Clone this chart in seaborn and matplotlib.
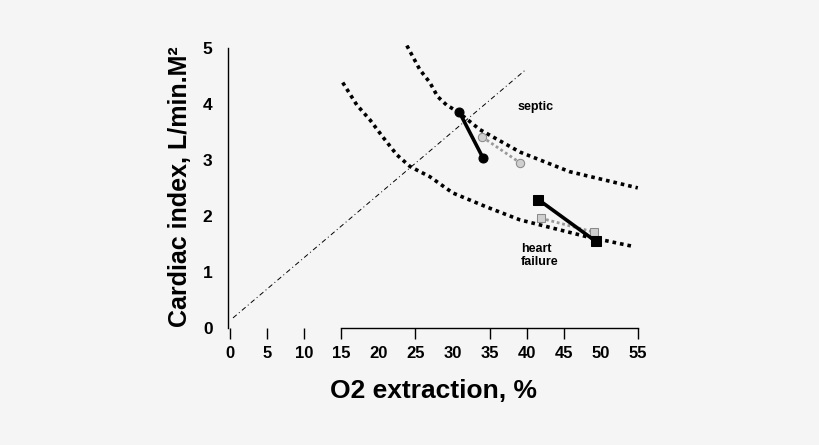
import numpy as np
import pandas as pd
import seaborn as sns
import matplotlib.pyplot as plt

# iso-VO2 curves
septic_x = [23.85, 25.6, 26.95, 28.0, 29.2, 30.7, 33.7, 39.1, 45.8, 55.0]
septic_y = [5.04, 4.61, 4.38, 4.13, 3.98, 3.86, 3.54, 3.14, 2.79, 2.50]
hf_x = [15.2, 17.1, 18.9, 20.6, 22.5, 24.3, 26.95, 30.05, 34.6, 39.1, 48.1, 54.6]
hf_y = [4.38, 3.98, 3.71, 3.41, 3.09, 2.88, 2.70, 2.41, 2.16, 1.93, 1.63, 1.45]

# identity-like reference line
diag_x = [0.4, 39.8]
diag_y = [0.18, 4.60]

# patient trajectories (before -> after)
septic_a_x = [30.9, 34.1]
septic_a_y = [3.86, 3.04]
septic_b_x = [34.0, 39.1]
septic_b_y = [3.41, 2.95]
hf_a_x = [41.6, 49.3]
hf_a_y = [2.29, 1.55]
hf_b_x = [41.9, 49.1]
hf_b_y = [1.96, 1.71]

xtick_labels = [str(v) for v in range(0, 60, 5)]
tick_marks = [0, 5, 10, 15, 25, 35, 40, 45, 55]
ytick_labels = ['0', '1', '2', '3', '4', '5']

sns.set_style('white')
plt.rcParams['font.family'] = ['Liberation Sans', 'DejaVu Sans']
plt.rcParams['text.color'] = 'black'
plt.rcParams['axes.labelcolor'] = 'black'
plt.rcParams['xtick.color'] = 'black'
plt.rcParams['ytick.color'] = 'black'
bg = '#f5f5f5'

fig = plt.figure(figsize=(8.2, 4.45), dpi=100, facecolor=bg)
ax = fig.add_axes([0.2778, 0.2629, 0.5027, 0.636], facecolor=bg)

dots = (0, (1, 1.1))
sns.lineplot(x=septic_x, y=septic_y, sort=False, ax=ax, color='black',
             lw=2.6, linestyle=dots)
sns.lineplot(x=hf_x, y=hf_y, sort=False, ax=ax, color='black',
             lw=2.6, linestyle=dots)
sns.lineplot(x=diag_x, y=diag_y, sort=False, ax=ax, color='black',
             lw=0.7, linestyle=(0, (5, 3, 1, 3)))

# gray (second measurement) trajectories
sns.lineplot(x=septic_b_x, y=septic_b_y, sort=False, ax=ax, color='#999999',
             lw=2.0, linestyle=(0, (1, 1)), marker='o', markersize=6,
             markerfacecolor='#cfcfcf', markeredgecolor='#8a8a8a')
sns.lineplot(x=hf_b_x, y=hf_b_y, sort=False, ax=ax, color='#999999',
             lw=2.0, linestyle=(0, (1, 1)), marker='s', markersize=6,
             markerfacecolor='#cfcfcf', markeredgecolor='#8a8a8a')

# black trajectories
sns.lineplot(x=septic_a_x, y=septic_a_y, sort=False, ax=ax, color='black',
             lw=2.6, marker='o', markersize=6.5, markeredgecolor='black')
sns.lineplot(x=hf_a_x, y=hf_a_y, sort=False, ax=ax, color='black',
             lw=2.6, marker='s', markersize=6.5, markeredgecolor='black')

ax.text(38.8, 3.95, 'septic', fontsize=9, fontweight='bold', ha='left', va='center')
ax.text(39.2, 1.30, 'heart\nfailure', fontsize=9, fontweight='bold',
        ha='left', va='center', linespacing=1.1)

ax.set_xlim(-0.3, 55.3)
ax.set_ylim(0, 5.05)

ax.xaxis.remove_overlapping_locs = False
ax.set_xticks(range(0, 60, 5))
ax.set_xticklabels(xtick_labels)
ax.set_xticks(tick_marks, minor=True)
ax.set_yticks(range(0, 6))
ax.set_yticklabels(ytick_labels)
ax.tick_params(axis='x', which='major', length=0, pad=13, labelsize=12)
ax.tick_params(axis='x', which='minor', length=8, width=1, direction='out',
               color='black', bottom=True)
ax.tick_params(axis='y', length=0, pad=11, labelsize=12.5)
for lab in ax.get_xticklabels() + ax.get_yticklabels():
    lab.set_fontweight('bold')

sns.despine(ax=ax)
ax.spines['left'].set_bounds(0, 5)
ax.spines['bottom'].set_bounds(15, 55)
for s in ('left', 'bottom'):
    ax.spines[s].set_color('black')
    ax.spines[s].set_linewidth(1)

ax.set_xlabel('O2 extraction, %', fontsize=19, fontweight='bold', labelpad=13)
ax.set_ylabel('Cardiac index, L/min.M²', fontsize=18, fontweight='bold', labelpad=8)

fig.savefig('out.png', dpi=100, facecolor=bg)
